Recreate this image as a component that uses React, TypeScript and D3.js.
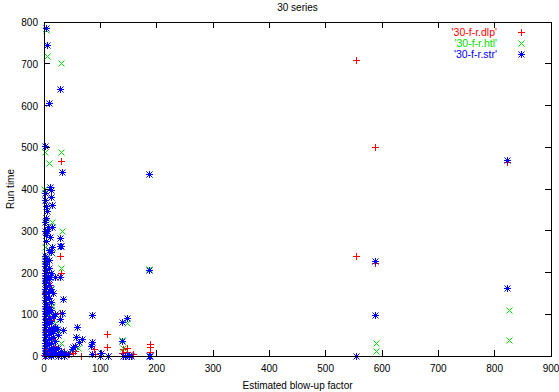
import * as d3 from "d3";

// values: [blow-up factor, run time]
const dlp: [number, number][] = [
  [553, 710], [553, 240], [588, 500], [588, 222], [822, 465],
  [188, 29], [188, 21], [188, 10], [112, 52], [112, 22], [147, 18], [138, 8],
  [147, 10], [158, 5], [89, 17], [90, 5], [65, 0], [141, 17],
  [31, 468], [28, 240], [31, 198], [28, 104],
  [12, 58], [15, 40], [8, 120], [20, 25], [5, 10], [25, 5], [35, 10], [45, 5],
  [55, 12], [10, 170], [3, 60], [0, 2], [12, 86], [2, 150], [52, 7], [18, 95],
];

const htl: [number, number][] = [
  [590, 30], [590, 12], [825, 110], [825, 38], [187, 435], [187, 208],
  [3, 780], [6, 718], [31, 701], [1.8, 488], [29.6, 488], [9.5, 462], [0.5, 400],
  [13.6, 362], [13.6, 322], [31.4, 300], [2, 260], [14.8, 246], [29.6, 210],
  [32.5, 102], [147, 78], [138, 38], [57, 45], [141, 20],
  [2, 230], [5, 200], [10, 160], [3, 140], [15, 120], [8, 95], [20, 80], [25, 60],
  [4, 50], [12, 35], [30, 30], [2, 15], [18, 10], [40, 8], [60, 20],
];

const str: [number, number][] = [
  [554, 0], [588, 228], [588, 98], [822, 470], [822, 162], [187, 437], [187, 206], [187, 0],
  [3, 785], [4.7, 746], [28.4, 639], [9.5, 607], [1.8, 504], [31.4, 440], [10.7, 404],
  [12, 398], [1.8, 374], [12.4, 381], [13.6, 362], [4.8, 347], [3.6, 331], [7.6, 310],
  [14.8, 310], [2, 300], [3, 290], [28.4, 282], [28.4, 264], [13.6, 262], [29.6, 263],
  [28, 190], [19.5, 190], [11, 190], [34, 136], [32.5, 102], [28.4, 88], [22.5, 64],
  [34, 62], [58, 70], [57, 45], [52, 21], [49, 16], [86, 98], [86, 34], [138, 82],
  [147, 90], [138, 37], [144, 0], [150, 0], [102, 8], [114, 0], [189, 0], [113, 0],
  [50, 17], [55, 25], [62, 33], [68, 40], [84, 25], [86, 5], [100, 0], [141, 0],
  [150, 2], [154, 0],
  [1, 390], [3, 360], [2, 320], [6, 300], [10, 285], [4, 275], [8, 255], [12, 250],
  [1, 240], [1, 228], [1, 215], [1, 200], [1, 188], [1, 175], [1, 160], [1, 148],
  [1, 135], [1, 120], [1, 108], [1, 95], [1, 82], [1, 70], [1, 58], [1, 45], [1, 32],
  [1, 20], [1, 8], [1, 0],
  [4, 235], [4, 220], [4, 205], [4, 192], [4, 178], [4, 165], [4, 150], [4, 138],
  [4, 125], [4, 112], [4, 100], [4, 88], [4, 75], [4, 62], [4, 50], [4, 38], [4, 25],
  [4, 12], [4, 3],
  [8, 230], [8, 210], [8, 185], [8, 170], [8, 155], [8, 140], [8, 118], [8, 105],
  [8, 92], [8, 78], [8, 65], [8, 52], [8, 40], [8, 28], [8, 15], [8, 5],
  [12, 200], [12, 160], [12, 130], [12, 110], [12, 85], [12, 68], [12, 55], [12, 42],
  [12, 30], [12, 18], [12, 8], [12, 0],
  [16, 150], [16, 95], [16, 60], [16, 45], [16, 22], [16, 10], [16, 2],
  [20, 100], [20, 70], [20, 35], [20, 15], [20, 4],
  [25, 50], [25, 20], [25, 6], [25, 0], [30, 12], [30, 3], [35, 8], [35, 0], [42, 4],
];

const seriesNames = ["'30-f-r.dlp'", "'30-f-r.htl'", "'30-f-r.str'"];
const seriesColors = ["#ff0000", "#00dd00", "#0000ff"];
const xTicks = [0, 100, 200, 300, 400, 500, 600, 700, 800, 900];
const yTicks = [0, 100, 200, 300, 400, 500, 600, 700, 800];

const W = 559;
const H = 392;
const left = 44, right = 551, top = 22, bottom = 356;
const font = "'Liberation Sans', Arial, sans-serif";

function marker(kind: number, x: number, y: number) {
  const s = 3.5;
  const plus = `M${x - s},${y}H${x + s}M${x},${y - s}V${y + s}`;
  const c = 3;
  const cross = `M${x - c},${y - c}L${x + c},${y + c}M${x - c},${y + c}L${x + c},${y - c}`;
  if (kind === 0) return plus;
  if (kind === 1) return cross;
  return plus + cross;
}

export default function App() {
  const x = d3.scaleLinear().domain([0, 900]).range([left, right]);
  const y = d3.scaleLinear().domain([0, 800]).range([bottom, top]);
  const all = [dlp, htl, str];
  const tl = 6;

  return (
    <div style={{ position: "fixed", left: 0, top: 0 }}>
      <svg width={W} height={H} style={{ display: "block", background: "#fff" }}>
        <text x={(left + right) / 2} y={11} textAnchor="middle" fontFamily={font} fontSize={10}>
          30 series
        </text>

        {/* ticks, mirrored on all sides */}
        <g stroke="#000" strokeWidth={1} shapeRendering="crispEdges">
          {xTicks.map((t) => (
            <g key={"x" + t}>
              <line x1={x(t)} x2={x(t)} y1={bottom} y2={bottom - tl} />
              <line x1={x(t)} x2={x(t)} y1={top} y2={top + tl} />
            </g>
          ))}
          {yTicks.map((t) => (
            <g key={"y" + t}>
              <line x1={left} x2={left + tl} y1={y(t)} y2={y(t)} />
              <line x1={right} x2={right - tl} y1={y(t)} y2={y(t)} />
            </g>
          ))}
        </g>
        <g fontFamily={font} fontSize={10} fill="#000">
          {xTicks.map((t) => (
            <text key={"xl" + t} x={x(t)} y={bottom + 16} textAnchor="middle">
              {t}
            </text>
          ))}
          {yTicks.map((t) => (
            <text key={"yl" + t} x={left - 6} y={y(t) + 4} textAnchor="end">
              {t}
            </text>
          ))}
        </g>
        <text x={(left + right) / 2} y={389} textAnchor="middle" fontFamily={font} fontSize={10}>
          Estimated blow-up factor
        </text>
        <text
          transform={`translate(14,${(top + bottom) / 2}) rotate(-90)`}
          textAnchor="middle"
          fontFamily={font}
          fontSize={10}
        >
          Run time
        </text>

        {/* points: red first, then green, blue on top */}
        {all.map((pts, i) => (
          <g key={"s" + i} stroke={seriesColors[i]} strokeWidth={1} fill="none">
            {pts.map((p, j) => (
              <path key={j} d={marker(i, Math.round(x(p[0])) + 0.5, Math.round(y(p[1])) + 0.5)} />
            ))}
          </g>
        ))}

        {/* legend */}
        {seriesNames.map((n, i) => (
          <g key={"lg" + i}>
            <text x={497} y={35.5 + i * 11} textAnchor="end" fontFamily={font} fontSize={10.5} fill={seriesColors[i]}>
              {n}
            </text>
            <path d={marker(i, 521.5, 32.5 + i * 11)} stroke={seriesColors[i]} strokeWidth={1} fill="none" />
          </g>
        ))}

        <rect
          x={left}
          y={top}
          width={right - left}
          height={bottom - top}
          fill="none"
          stroke="#000"
          strokeWidth={1}
          shapeRendering="crispEdges"
        />
      </svg>
    </div>
  );
}
